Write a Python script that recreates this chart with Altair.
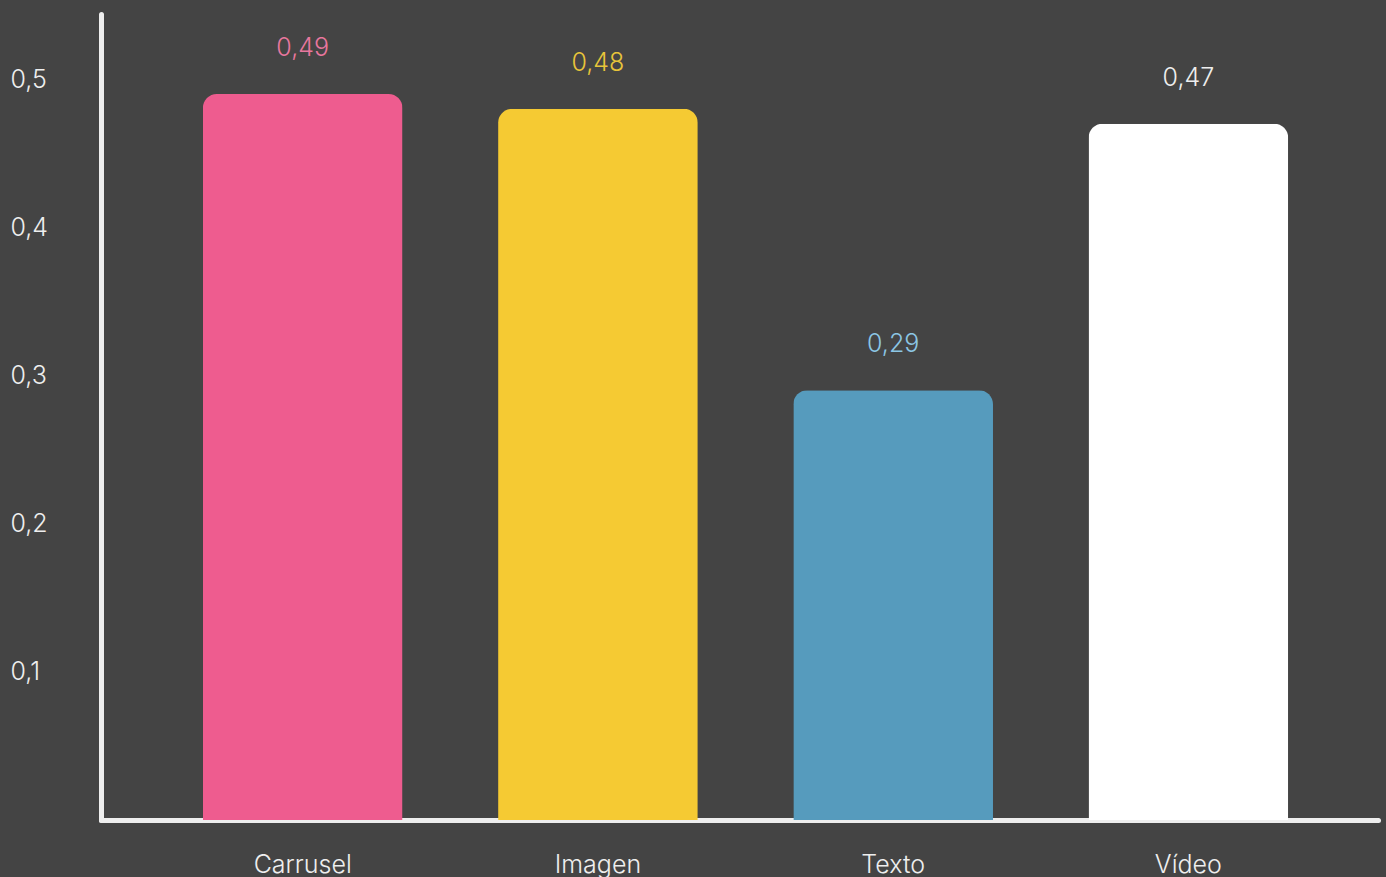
import altair as alt
import pandas as pd

# Engagement medio por tipo de publicación
tipos = ["Carrusel", "Imagen", "Texto", "Vídeo"]
valores = [0.49, 0.48, 0.29, 0.47]
colores_barra = ["#EE5C8F", "#F5CA33", "#569BBD", "#FFFFFF"]
colores_texto = ["#E8779E", "#E8C43A", "#8CC6E4", "#EEEEEE"]
ticks_y = [0.1, 0.2, 0.3, 0.4, 0.5]

df = pd.DataFrame({"tipo": tipos, "valor": valores})

FONT = "Inter"
BG = "#444444"
AXIS = "#EEEEEE"

x_enc = alt.X(
    "tipo:N",
    sort=tipos,
    title=None,
    scale=alt.Scale(paddingInner=0.3236, paddingOuter=0.3245, align=0.5315),
    axis=alt.Axis(
        labelAngle=0,
        ticks=False,
        tickSize=0,
        labelPadding=32,
        labelFont=FONT,
        labelFontSize=25,
        labelFontWeight=300,
        labelColor="#EEEEEE",
        domainColor=AXIS,
        domainWidth=5,
        domainCap="round",
        grid=False,
    ),
)

y_scale = alt.Scale(domain=[0, 0.544], nice=False, zero=True)

bars = alt.Chart(df).mark_bar(
    cornerRadiusTopLeft=14, cornerRadiusTopRight=14
).encode(
    x=x_enc,
    y=alt.Y(
        "valor:Q",
        title=None,
        scale=y_scale,
        axis=alt.Axis(
            values=ticks_y,
            labelExpr="replace(format(datum.value, '.1f'), '.', ',')",
            ticks=False,
            tickSize=0,
            labelAlign="left",
            labelPadding=91,
            labelFont=FONT,
            labelFontSize=25,
            labelFontWeight=300,
            labelColor="#EEEEEE",
            domainColor=AXIS,
            domainWidth=5,
            domainCap="round",
            grid=False,
        ),
    ),
    color=alt.Color(
        "tipo:N",
        scale=alt.Scale(domain=tipos, range=colores_barra),
        legend=None,
    ),
)

etiquetas = alt.Chart(df).transform_calculate(
    texto="replace(format(datum.valor, '.2f'), '.', ',')"
).mark_text(
    font=FONT, fontSize=25, fontWeight=300, baseline="alphabetic", dy=-38
).encode(
    x=alt.X("tipo:N", sort=tipos),
    y=alt.Y("valor:Q", scale=y_scale),
    text="texto:N",
    color=alt.Color(
        "tipo:N",
        scale=alt.Scale(domain=tipos, range=colores_texto),
        legend=None,
    ),
)

chart = (
    alt.layer(bars, etiquetas)
    .resolve_scale(color="independent")
    .properties(
        width=1277,
        height=806,
        background=BG,
        padding={"left": 101, "top": 14, "right": 8, "bottom": 57},
        autosize=alt.AutoSizeParams(type="none"),
    )
    .configure_view(stroke=None)
)

chart.save("out.html", embed_options={"renderer": "svg", "actions": False})
